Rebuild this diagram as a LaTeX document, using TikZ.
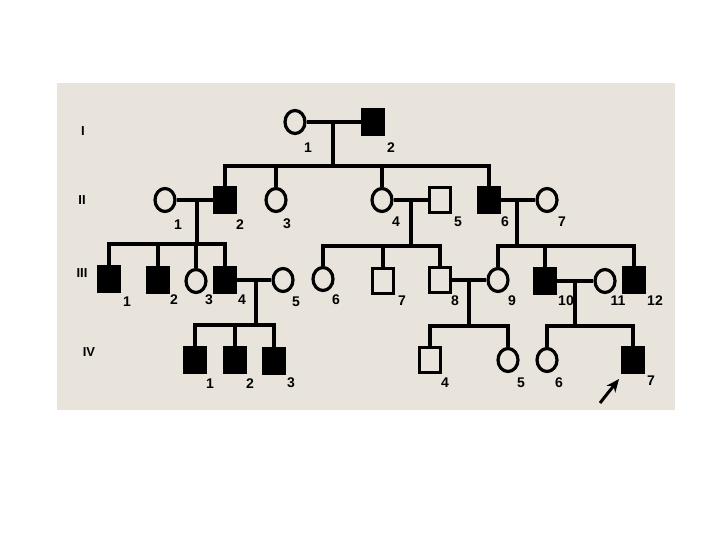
\documentclass[tikz,border=0pt]{standalone}
\usepackage{fontspec}
\setmainfont{Liberation Sans}
\usetikzlibrary{shapes.geometric,arrows.meta}
\definecolor{bgc}{RGB}{232,228,220}
\tikzset{
  conn/.style={draw, line width=3.2pt},
  male/.style={draw, rectangle, line width=3.2pt, minimum width=21pt, minimum height=25pt, inner sep=0pt, fill=bgc},
  affm/.style={male, fill=black},
  fem/.style={draw, ellipse, line width=3.2pt, minimum width=20pt, minimum height=23pt, inner sep=0pt, fill=bgc},
  lab/.style={font=\fontsize{14}{14}\selectfont\bfseries, inner sep=0pt},
  gen/.style={font=\fontsize{13}{13}\selectfont\bfseries, inner sep=0pt}
}
\begin{document}
\begin{tikzpicture}[x=1pt,y=-1pt]
\useasboundingbox (0,0) rectangle (720,540);
\fill[white] (0,0) rectangle (720,540);
\fill[bgc] (57,83) rectangle (675,410);

% generation labels
\node[gen] (gI) at (83,131) {I};
\node[gen] (gII) at (82,200) {II};
\node[gen] (gIII) at (82,273) {III};
\node[gen] (gIV) at (89,352) {IV};

% ---- Generation I
\node[fem]  (I1) at (295,122) {};
\node[affm] (I2) at (373,122) {};
% ---- Generation II
\node[fem]  (II1) at (165,200) {};
\node[affm] (II2) at (225,200) {};
\node[fem]  (II3) at (276,200) {};
\node[fem]  (II4) at (382,200) {};
\node[male] (II5) at (440,200) {};
\node[affm] (II6) at (489,200) {};
\node[fem]  (II7) at (547,200) {};
% ---- Generation III
\node[affm] (III1) at (109,279) {};
\node[affm] (III2) at (158,280) {};
\node[fem]  (III3) at (196,281) {};
\node[affm] (III4) at (225,280) {};
\node[fem]  (III5) at (283,280) {};
\node[fem]  (III6) at (323,279) {};
\node[male] (III7) at (383,281) {};
\node[male] (III8) at (440,280) {};
\node[fem]  (III9) at (498,280) {};
\node[affm] (III10) at (545,281) {};
\node[fem]  (III11) at (605,281) {};
\node[affm] (III12) at (634,280) {};
% ---- Generation IV
\node[affm] (IV1) at (195,360) {};
\node[affm] (IV2) at (235,360) {};
\node[affm] (IV3) at (274,361) {};
\node[male] (IV4) at (430,360) {};
\node[fem]  (IV5) at (508,360) {};
\node[fem]  (IV6) at (547,360) {};
\node[affm] (IV7) at (633,360) {};

% junction coordinates
\coordinate (mI) at (333,122);   \coordinate (sI) at (333,166);
\coordinate (mA) at (197,200);   \coordinate (sA) at (197,244);
\coordinate (mB) at (411,200);   \coordinate (sB) at (411,246);
\coordinate (mC) at (517,200);   \coordinate (sC) at (517,246);
\coordinate (mD) at (256,280);   \coordinate (sD) at (256,325);
\coordinate (mE) at (469,280);   \coordinate (sE) at (469,326);
\coordinate (mF) at (575,281);   \coordinate (sF) at (575,326);

% generation I family
\path[conn] (I1) -- (I2);
\path[conn] (mI) -- (sI);
\path[conn] (II2.north) |- (sI) -| (II6.north);
\path[conn] (II3.north) -- (II3.north |- sI);
\path[conn] (II4.north) -- (II4.north |- sI);
% II1 x II2
\path[conn] (II1) -- (II2);
\path[conn] (mA) -- (sA);
\path[conn] (III1.north) |- (sA) -| (III4.north);
\path[conn] (III2.north) -- (III2.north |- sA);
\path[conn] (III3.north) -- (III3.north |- sA);
% II4 x II5
\path[conn] (II4) -- (II5);
\path[conn] (mB) -- (sB);
\path[conn] (III6.north) |- (sB) -| (III8.north);
\path[conn] (III7.north) -- (III7.north |- sB);
% II6 x II7
\path[conn] (II6) -- (II7);
\path[conn] (mC) -- (sC);
\path[conn] (III9.north) |- (sC) -| (III12.north);
\path[conn] (III10.north) -- (III10.north |- sC);
% III4 x III5
\path[conn] (III4) -- (III5);
\path[conn] (mD) -- (sD);
\path[conn] (IV1.north) |- (sD) -| (IV3.north);
\path[conn] (IV2.north) -- (IV2.north |- sD);
% III8 x III9
\path[conn] (III8) -- (III9);
\path[conn] (mE) -- (sE);
\path[conn] (IV4.north) |- (sE) -| (IV5.north);
% III10 x III11
\path[conn] (III10) -- (III11);
\path[conn] (mF) -- (sF);
\path[conn] (IV6.north) |- (sF) -| (IV7.north);

% individual labels
\node[lab] (lI1) at (308,148) {1};
\node[lab] (lI2) at (391,148) {2};
\node[lab] (lII1) at (178,225) {1};
\node[lab] (lII2) at (240,225) {2};
\node[lab] (lII3) at (287,224) {3};
\node[lab] (lII4) at (396,222) {4};
\node[lab] (lII5) at (458,222) {5};
\node[lab] (lII6) at (505,222) {6};
\node[lab] (lII7) at (562,222) {7};
\node[lab] (lIII1) at (127,302) {1};
\node[lab] (lIII2) at (174,300) {2};
\node[lab] (lIII3) at (209,300) {3};
\node[lab] (lIII4) at (242,300) {4};
\node[lab] (lIII5) at (296,302) {5};
\node[lab] (lIII6) at (336,300) {6};
\node[lab] (lIII7) at (402,301) {7};
\node[lab] (lIII8) at (455,301) {8};
\node[lab] (lIII9) at (512,301) {9};
\node[lab] (lIII10) at (566,301) {10};
\node[lab] (lIII11) at (618,301) {11};
\node[lab] (lIII12) at (655,301) {12};
\node[lab] (lIV1) at (210,384) {1};
\node[lab] (lIV2) at (250,384) {2};
\node[lab] (lIV3) at (291,383) {3};
\node[lab] (lIV4) at (445,383) {4};
\node[lab] (lIV5) at (521,383) {5};
\node[lab] (lIV6) at (559,383) {6};
\node[lab] (lIV7) at (651,381) {7};

% proband arrow
\coordinate (pa) at (600,403);
\coordinate (pb) at (619,379);
\draw[line width=3pt, -{Stealth[length=13pt,width=11pt]}] (pa) -- (pb);
\end{tikzpicture}
\end{document}
